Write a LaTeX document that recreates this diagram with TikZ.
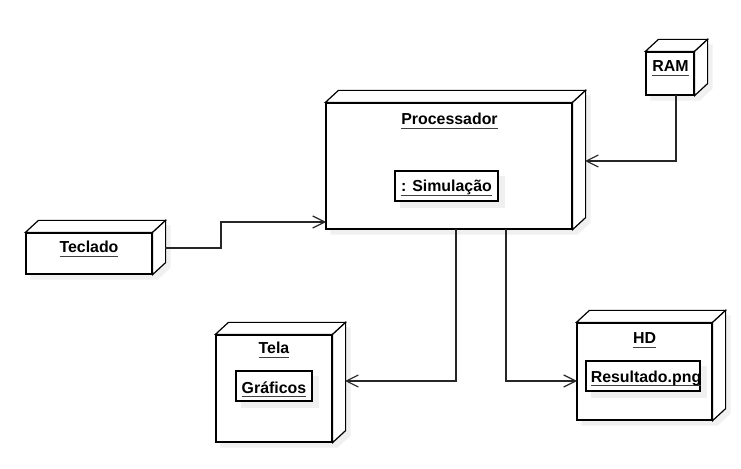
\documentclass[tikz,border=0pt]{standalone}
\usepackage{fontspec}
\setmainfont{Liberation Sans}
\usetikzlibrary{arrows.meta}
\newcommand\ulbox[1]{\setbox0\hbox{#1}\rlap{\color{black!75}\rule[-4.2bp]{\wd0}{1.1bp}}\box0}
\tikzset{
  face/.style={draw=black, line width=1.2bp, fill=white, inner sep=0pt},
  inner/.style={draw=black, line width=1.2bp, fill=white, inner sep=0pt},
  shadowfill/.style={fill=black!6, draw=none},
  lbl/.style={anchor=base, inner sep=0pt, font=\fontsize{15.9bp}{18bp}\selectfont\bfseries},
  conn/.style={draw=black!85, line width=1.2bp, -{Straight Barb[length=12bp,width=12bp]}},
}
\newcommand\depthfaces[1]{%
  \fill[shadowfill] ([shift={(5,5)}]#1.south west) -- ([shift={(5,5)}]#1.north west) -- ([shift={(18,-7)}]#1.north west) -- ([shift={(18,-7)}]#1.north east) -- ([shift={(18,-7)}]#1.south east) -- ([shift={(5,5)}]#1.south east) -- cycle;
  \filldraw[face] (#1.north west) -- ++(13,-12) -- ([shift={(13,-12)}]#1.north east) -- (#1.north east) -- cycle;
  \filldraw[face] (#1.north east) -- ([shift={(13,-12)}]#1.north east) -- ([shift={(13,-12)}]#1.south east) -- (#1.south east) -- cycle;
}
\begin{document}
\begin{tikzpicture}[x=1bp,y=-1bp]
\useasboundingbox[fill=white] (0,0) rectangle (741,469);
% Processador
\node[face, minimum width=246bp, minimum height=126bp] (proc) at (449,166) {};
\depthfaces{proc}
\node[face, minimum width=246bp, minimum height=126bp] at (449,166) {};
% Teclado
\node[face, minimum width=126bp, minimum height=41bp] (tec) at (89,253.5) {};
\depthfaces{tec}
\node[face, minimum width=126bp, minimum height=41bp] at (89,253.5) {};
% RAM
\node[face, minimum width=48bp, minimum height=43bp] (ram) at (670,73.5) {};
\depthfaces{ram}
\node[face, minimum width=48bp, minimum height=43bp] at (670,73.5) {};
% Tela
\node[face, minimum width=116bp, minimum height=107bp] (tela) at (274,388.5) {};
\depthfaces{tela}
\node[face, minimum width=116bp, minimum height=107bp] at (274,388.5) {};
% HD
\node[face, minimum width=135bp, minimum height=97bp] (hd) at (644.5,371.5) {};
\depthfaces{hd}
\node[face, minimum width=135bp, minimum height=97bp] at (644.5,371.5) {};

% inner boxes with shadows
\fill[shadowfill] (400,176) rectangle (505,208);
\node[inner, minimum width=103bp, minimum height=30bp] (sim) at (446.5,186) {};
\fill[shadowfill] (241,376) rectangle (319,408);
\node[inner, minimum width=76bp, minimum height=30bp] (graf) at (274,386) {};
\fill[shadowfill] (591,366) rectangle (707,398);
\node[inner, minimum width=114bp, minimum height=30bp] (res) at (643,376) {};

% labels
\node[lbl] (procl) at (449.5,125) {\ulbox{Processador}};
\node[lbl] (siml) at (446.5,192) {\ulbox{: Simulação}};
\node[lbl] (tecl) at (89,253) {\ulbox{Teclado}};
\node[lbl] (raml) at (670.5,71.5) {\ulbox{RAM}};
\node[lbl] (telal) at (274,354) {\ulbox{Tela}};
\node[lbl] (grafl) at (274,393) {\ulbox{Gráficos}};
\node[lbl] (hdl) at (644.5,344) {\ulbox{HD}};
\node[lbl] (resl) at (646,382) {\ulbox{Resultado.png}};

% connection points
\coordinate (tecR) at (165,248);
\coordinate (procL) at (326,222);
\coordinate (ramB) at (676,95);
\coordinate (procR) at (585,161);
\coordinate (procB1) at (456,229);
\coordinate (procB2) at (506,229);
\coordinate (telaR) at (345,381);
\coordinate (hdL) at (577,381);

% connectors
\draw[conn] (tecR) -- (221,248) |- (procL);
\draw[conn] (ramB) |- (procR);
\draw[conn] (procB1) |- (telaR);
\draw[conn] (procB2) |- (hdL);
\end{tikzpicture}
\end{document}
